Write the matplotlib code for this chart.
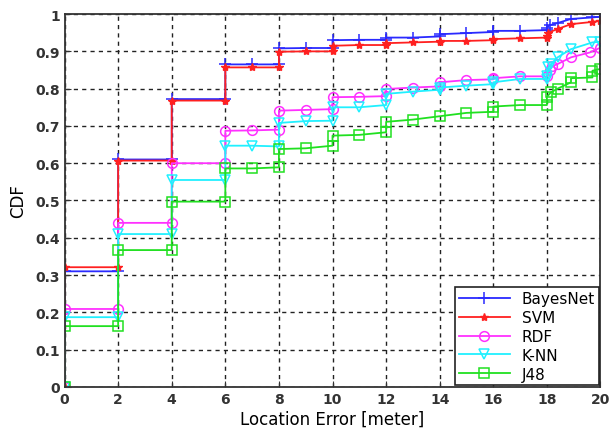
import matplotlib.pyplot as plt

# data (step corners + points near 18-20 m)
bayes_x = [0, 0, 2, 2, 4, 4, 6, 6, 7, 8, 8, 9, 10, 10, 11, 12, 12, 13, 14, 14, 15, 16, 16, 17, 18, 18, 18.1, 18.4, 18.9, 19.7, 20]
bayes_y = [0, 0.31, 0.31, 0.61, 0.61, 0.772, 0.772, 0.865, 0.865, 0.865, 0.908, 0.909, 0.909, 0.93, 0.931, 0.931, 0.937, 0.937, 0.94, 0.946, 0.949, 0.952, 0.955, 0.955, 0.957, 0.964, 0.97, 0.976, 0.987, 0.991, 0.993]

svm_x = [0, 0, 2, 2, 4, 4, 6, 6, 7, 8, 8, 9, 10, 10, 11, 12, 12, 13, 14, 14, 15, 16, 16, 17, 18, 18, 18.05, 18.4, 18.9, 19.7, 20]
svm_y = [0, 0.321, 0.321, 0.607, 0.607, 0.768, 0.768, 0.857, 0.857, 0.857, 0.899, 0.9, 0.9, 0.915, 0.917, 0.917, 0.922, 0.924, 0.926, 0.928, 0.928, 0.93, 0.933, 0.935, 0.937, 0.942, 0.95, 0.96, 0.973, 0.979, 0.982]

rdf_x = [0, 0, 2, 2, 4, 4, 6, 6, 7, 8, 8, 9, 10, 10, 11, 12, 12, 13, 14, 14, 15, 16, 16, 17, 18, 18.1, 18.2, 18.4, 18.9, 19.6, 20]
rdf_y = [0, 0.209, 0.209, 0.44, 0.44, 0.6, 0.6, 0.687, 0.688, 0.69, 0.741, 0.743, 0.745, 0.777, 0.778, 0.78, 0.799, 0.803, 0.806, 0.817, 0.823, 0.825, 0.828, 0.833, 0.833, 0.85, 0.86, 0.866, 0.884, 0.897, 0.91]

knn_x = [0, 0, 2, 2, 4, 4, 6, 6, 7, 8, 8, 9, 10, 10, 11, 12, 12, 13, 14, 14, 15, 16, 16, 17, 18, 18, 18.05, 18.15, 18.4, 18.9, 19.7, 20]
knn_y = [0, 0.187, 0.187, 0.41, 0.41, 0.555, 0.555, 0.647, 0.647, 0.645, 0.708, 0.713, 0.714, 0.75, 0.75, 0.756, 0.786, 0.792, 0.797, 0.803, 0.808, 0.812, 0.817, 0.826, 0.826, 0.833, 0.857, 0.866, 0.884, 0.906, 0.924, 0.926]

j48_x = [0, 0, 2, 2, 4, 4, 6, 6, 7, 8, 8, 9, 10, 10, 11, 12, 12, 13, 14, 15, 16, 16, 17, 18, 18, 18.15, 18.4, 18.9, 18.9, 19.7, 19.7, 20]
j48_y = [0, 0.163, 0.163, 0.367, 0.367, 0.497, 0.497, 0.586, 0.586, 0.589, 0.638, 0.64, 0.647, 0.674, 0.676, 0.683, 0.711, 0.717, 0.726, 0.735, 0.738, 0.752, 0.756, 0.756, 0.778, 0.79, 0.8, 0.817, 0.828, 0.83, 0.848, 0.853]

x_ticks = list(range(0, 21, 2))
y_ticks = [0, 0.1, 0.2, 0.3, 0.4, 0.5, 0.6, 0.7, 0.8, 0.9, 1]
y_ticklabels = ['0', '0.1', '0.2', '0.3', '0.4', '0.5', '0.6', '0.7', '0.8', '0.9', '1']

fig = plt.figure(figsize=(6.09, 4.31), dpi=100)
ax = fig.add_axes([0.106, 0.1, 0.88, 0.865])

ax.plot(bayes_x, bayes_y, color='#2a2aff', marker='+', markersize=8, mew=1.1, lw=1.3, label='BayesNet')
ax.plot(svm_x, svm_y, color='#ff2020', marker='*', markersize=6, lw=1.3, label='SVM')
ax.plot(rdf_x, rdf_y, color='#ff30ff', marker='o', markersize=7, mfc='none', mew=1.1, lw=1.3, label='RDF')
ax.plot(knn_x, knn_y, color='#20f0ff', marker='v', markersize=7, mfc='none', mew=1.1, lw=1.3, label='K-NN')
ax.plot(j48_x, j48_y, color='#20e020', marker='s', markersize=7, mfc='none', mew=1.1, lw=1.3, label='J48')

ax.set_xlim(0, 20)
ax.set_ylim(0, 1)
ax.set_xticks(x_ticks)
ax.set_yticks(y_ticks)
ax.set_yticklabels(y_ticklabels)
ax.tick_params(direction='in', length=4, labelsize=10, colors='#333333')
for t in ax.get_xticklabels() + ax.get_yticklabels():
    t.set_fontweight('bold')
ax.grid(True, color='#222222', linestyle=(0, (3, 3)), linewidth=1.0)
for s in ax.spines.values():
    s.set_linewidth(1.3)
    s.set_color('#333333')

ax.set_xlabel('Location Error [meter]', fontsize=12, labelpad=3)
ax.set_ylabel('CDF', fontsize=12, labelpad=6)

leg = ax.legend(loc='lower right', fontsize=11, fancybox=False, framealpha=1,
                edgecolor='#222222', handlelength=3.3, borderpad=0.25,
                labelspacing=0.25, borderaxespad=0.1)
leg.get_frame().set_linewidth(1.2)

fig.savefig('out.png', dpi=100)
